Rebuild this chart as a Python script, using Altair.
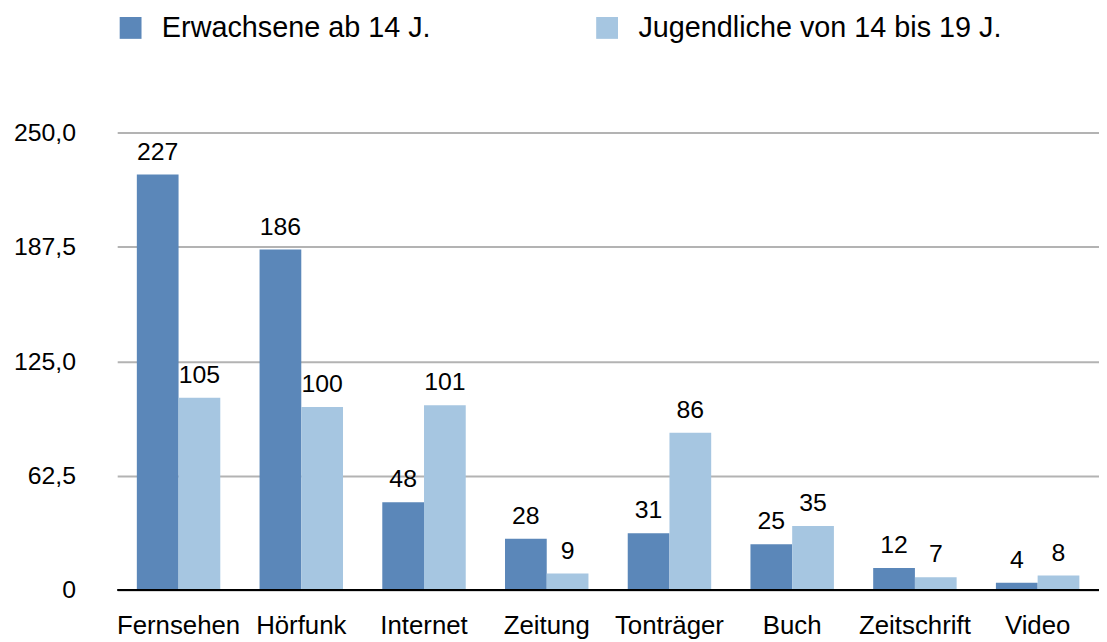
import altair as alt
import pandas as pd

categories = ["Fernsehen", "Hörfunk", "Internet", "Zeitung", "Tonträger", "Buch", "Zeitschrift", "Video"]
series_names = ["Erwachsene ab 14 J.", "Jugendliche von 14 bis 19 J."]
erwachsene = [227, 186, 48, 28, 31, 25, 12, 4]
jugendliche = [105, 100, 101, 9, 86, 35, 7, 8]
colors = ["#5b87b9", "#a6c6e1"]
y_ticks = [0, 62.5, 125, 187.5, 250]

rows = []
for i, c in enumerate(categories):
    rows.append({"cat": c, "series": series_names[0], "value": erwachsene[i]})
    rows.append({"cat": c, "series": series_names[1], "value": jugendliche[i]})
df = pd.DataFrame(rows)

FONT = "Liberation Sans"

x = alt.X("cat:N", sort=categories, title=None,
          scale=alt.Scale(paddingInner=0.32, paddingOuter=0.16),
          axis=alt.Axis(labelAngle=0, labelFontSize=26, labelFont=FONT, labelColor="#000",
                        labelPadding=23, ticks=False, domain=False, grid=False))
y = alt.Y("value:Q", title=None,
          scale=alt.Scale(domain=[0, 250], nice=False),
          axis=alt.Axis(values=y_ticks, labelFontSize=25, labelFont=FONT, labelColor="#000",
                        labelPadding=42, ticks=False, domain=False, gridColor="#b3b3b3",
                        gridWidth=2, gridOpacity=1,
                        labelExpr="datum.value == 0 ? '0' : replace(format(datum.value, '.1f'), '.', ',')"))
xoff = alt.XOffset("series:N", sort=series_names)

bars = alt.Chart(df).mark_bar().encode(
    x=x, y=y, xOffset=xoff,
    color=alt.Color("series:N", sort=series_names,
                    scale=alt.Scale(domain=series_names, range=colors),
                    legend=alt.Legend(title=None, orient="none", legendX=-1, legendY=-120,
                                      direction="horizontal", symbolType="square",
                                      symbolSize=484, symbolStrokeWidth=0, symbolOpacity=1,
                                      labelFontSize=29, labelFont=FONT, labelColor="#000",
                                      labelOffset=17, columnPadding=163, labelLimit=600,
                                      padding=0)),
)

labels = alt.Chart(df).mark_text(baseline="alphabetic", dy=-15, fontSize=25, font=FONT, color="#000").encode(
    x=x, y=y, xOffset=xoff, text=alt.Text("value:Q")
)

baseline = alt.Chart(pd.DataFrame({"v": [0]})).mark_rule(color="#000", strokeWidth=2).encode(
    y=alt.datum(0)
)

chart = alt.layer(bars, labels, baseline).properties(
    width=989, height=461,
    padding={"left": 110, "top": 123, "right": 0, "bottom": 50},
    autosize=alt.AutoSizeParams(type="none"),
).configure_view(stroke=None)

chart.save("out.html", embed_options={"renderer": "svg", "actions": False})
